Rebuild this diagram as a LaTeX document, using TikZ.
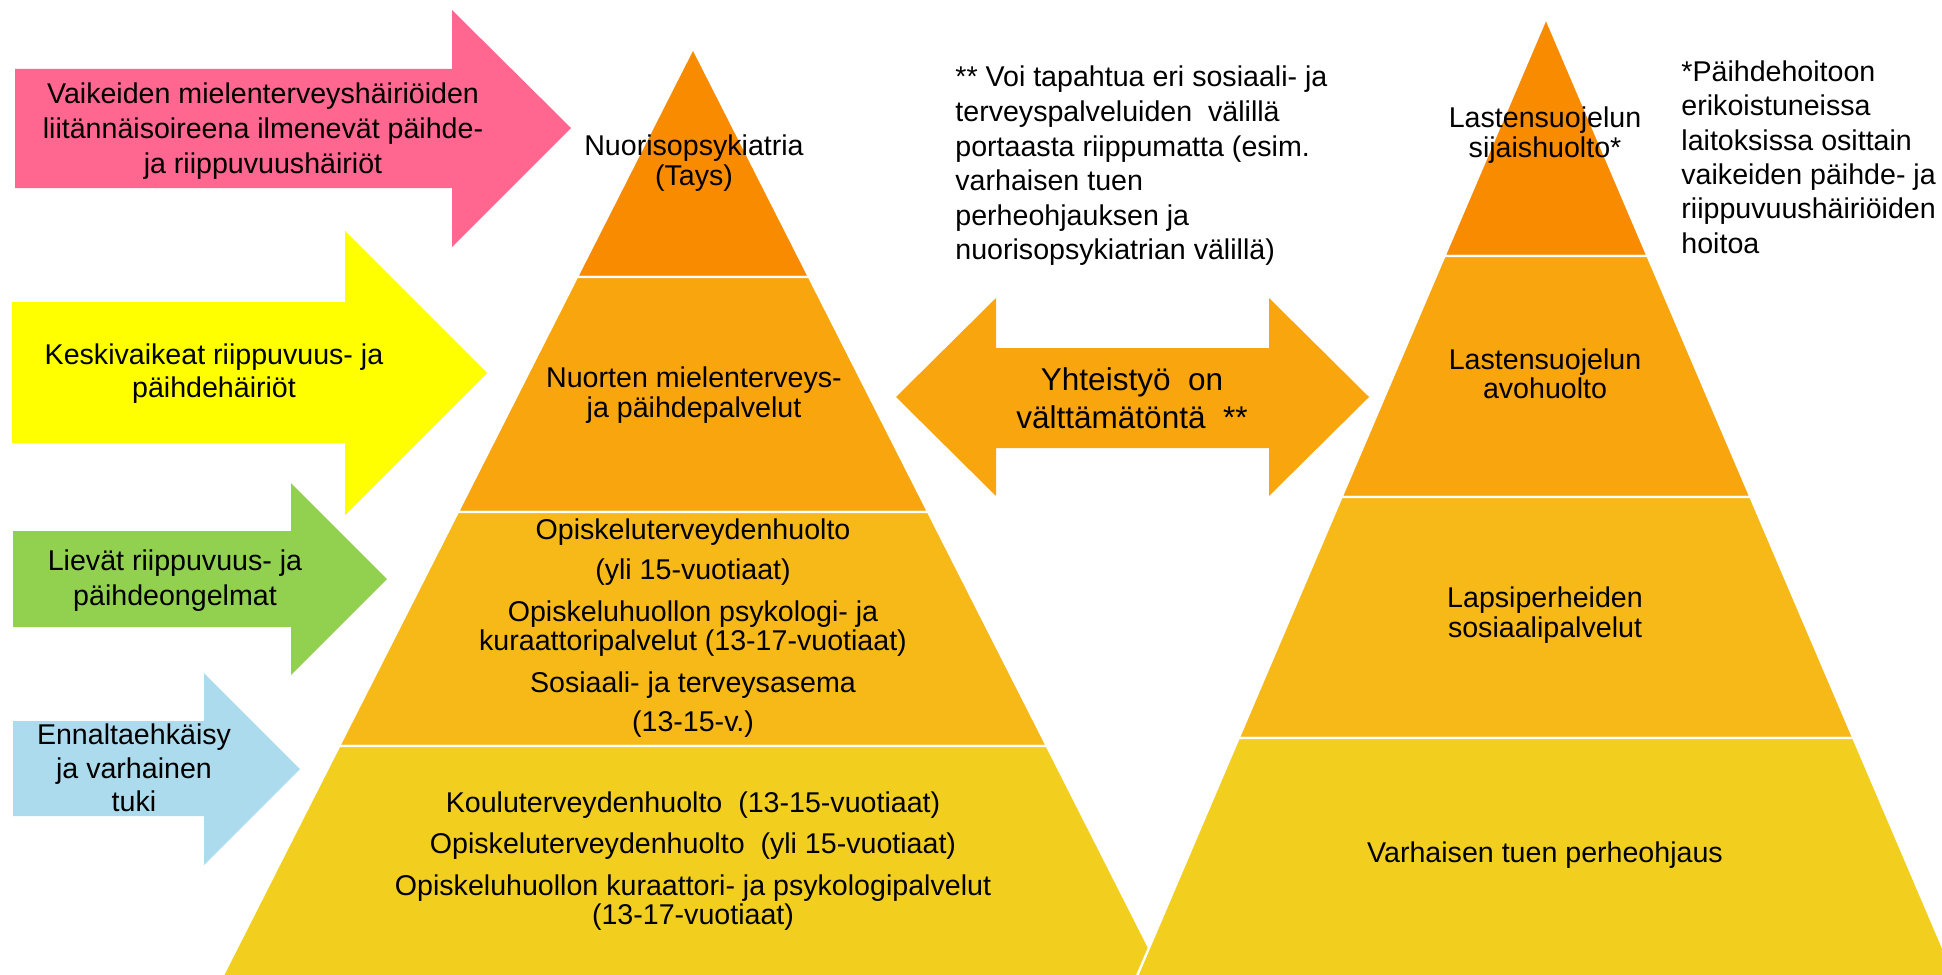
\documentclass[tikz,border=0pt]{standalone}
\usepackage{fontspec}
\setmainfont{Liberation Sans}
\usetikzlibrary{positioning}
\definecolor{Pinkki}{HTML}{FF6690}
\definecolor{Keltainen}{HTML}{FFFF00}
\definecolor{Vihrea}{HTML}{92D050}
\definecolor{Sininen}{HTML}{ADDBEE}
\definecolor{TasoA}{HTML}{F98B00}
\definecolor{TasoB}{HTML}{F8A50E}
\definecolor{TasoC}{HTML}{F6B917}
\definecolor{TasoD}{HTML}{F2CF1F}
\definecolor{White}{HTML}{FFFFFF}
\tikzset{
    teksti/.style={inner sep=0pt, align=center, text=black, font=\fontsize{14.3}{17.5}\selectfont},
    pyrteksti/.style={teksti, font=\fontsize{14.3}{14.75}\selectfont},
    kerros/.style={draw=White, line width=1.2pt, line join=round},
}

\begin{document}
\begin{tikzpicture}[x=0.5pt, y=-0.5pt]
    \useasboundingbox (0,0) rectangle (1942,974);

    % Nuolet vasemmalla
    \fill[Pinkki] (15,69) -- (452,69) -- (452,10) -- (571,128) -- (452,247) -- (452,188) -- (15,188) -- cycle;
    \fill[Keltainen] (12,302) -- (345,302) -- (345,231) -- (487,373) -- (345,515) -- (345,443) -- (12,443) -- cycle;
    \fill[Vihrea] (13,531) -- (291,531) -- (291,483) -- (387,579) -- (291,675) -- (291,627) -- (13,627) -- cycle;
    \fill[Sininen] (13,721) -- (204,721) -- (204,673) -- (300,769) -- (204,865) -- (204,816) -- (13,816) -- cycle;

    \node[teksti] (vaikeat) at (263,131) {Vaikeiden mielenterveyshäiriöiden\\liitännäisoireena ilmenevät päihde-\\ja riippuvuushäiriöt};
    \node[teksti, font=\fontsize{14.3}{16.5}\selectfont] (keski) at (214,374) {Keskivaikeat riippuvuus- ja\\päihdehäiriöt};
    \node[teksti] (lievat) at (175,581) {Lievät riippuvuus- ja\\päihdeongelmat};
    \node[teksti, font=\fontsize{14.3}{16.75}\selectfont] (ennalta) at (134,768) {Ennaltaehkäisy\\ja varhainen\\tuki};

    % Vasen pyramidi
    \fill[TasoA, kerros] (693,48) -- (809.1,277) -- (576.9,277) -- cycle;
    \fill[TasoB, kerros] (576.9,277) -- (809.1,277) -- (928.2,512) -- (457.8,512) -- cycle;
    \fill[TasoC, kerros] (457.8,512) -- (928.2,512) -- (1046.9,746) -- (339.1,746) -- cycle;
    \fill[TasoD, kerros] (339.1,746) -- (1046.9,746) -- (1170.6,990) -- (215.4,990) -- cycle;

    \node[pyrteksti, font=\fontsize{14.3}{15}\selectfont] (nuorisopsyk) at (694,163) {Nuorisopsykiatria\\(Tays)};
    \node[pyrteksti] (nuortenmt) at (694,395) {Nuorten mielenterveys-\\ja päihdepalvelut};
    \node[pyrteksti] (opiskelu) at (693,628) {Opiskeluterveydenhuolto\\[5.5pt](yli 15-vuotiaat)\\[6pt]Opiskeluhuollon psykologi- ja\\kuraattoripalvelut (13-17-vuotiaat)\\[6pt]Sosiaali- ja terveysasema\\[5pt](13-15-v.)};
    \node[pyrteksti] (koulu) at (693,861) {Kouluterveydenhuolto\ \ (13-15-vuotiaat)\\[6pt]Opiskeluterveydenhuolto\ \ (yli 15-vuotiaat)\\[6pt]Opiskeluhuollon kuraattori- ja psykologipalvelut\\(13-17-vuotiaat)};

    % Oikea pyramidi
    \fill[TasoA, kerros] (1546,18) -- (1647.6,256) -- (1444.4,256) -- cycle;
    \fill[TasoB, kerros] (1444.4,256) -- (1647.6,256) -- (1750.5,497) -- (1341.5,497) -- cycle;
    \fill[TasoC, kerros] (1341.5,497) -- (1750.5,497) -- (1853.4,738) -- (1238.6,738) -- cycle;
    \fill[TasoD, kerros] (1238.6,738) -- (1853.4,738) -- (1961,990) -- (1131,990) -- cycle;

    \node[pyrteksti] (sijais) at (1545,135) {Lastensuojelun\\sijaishuolto*};
    \node[pyrteksti] (avo) at (1545,374) {Lastensuojelun\\avohuolto};
    \node[pyrteksti] (lapsiperhe) at (1545,615) {Lapsiperheiden\\sosiaalipalvelut};
    \node[pyrteksti] (varhainen) at (1545,855) {Varhaisen tuen perheohjaus};

    % Yhteistyönuoli
    \fill[TasoB] (896,397) -- (996,298) -- (996,348) -- (1269,348) -- (1269,298) -- (1369,397) -- (1269,496) -- (1269,448) -- (996,448) -- (996,496) -- cycle;
    \node[teksti, font=\fontsize{15.75}{19}\selectfont] (yhteistyo) at (1132,398) {Yhteistyö\ \ on\\välttämätöntä\ \ **};

    % Huomautukset
    \node[teksti, align=left, anchor=west, font=\fontsize{14.3}{17.3}\selectfont] (huom2) at (955,166) {** Voi tapahtua eri sosiaali- ja\\terveyspalveluiden\ \ välillä\\portaasta riippumatta (esim.\\varhaisen tuen\\perheohjauksen ja\\nuorisopsykiatrian välillä)};
    \node[teksti, align=left, anchor=west, font=\fontsize{14.3}{17.2}\selectfont] (huom1) at (1681,157) {*Päihdehoitoon\\erikoistuneissa\\laitoksissa osittain\\vaikeiden päihde- ja\\riippuvuushäiriöiden\\hoitoa};
\end{tikzpicture}
\end{document}
